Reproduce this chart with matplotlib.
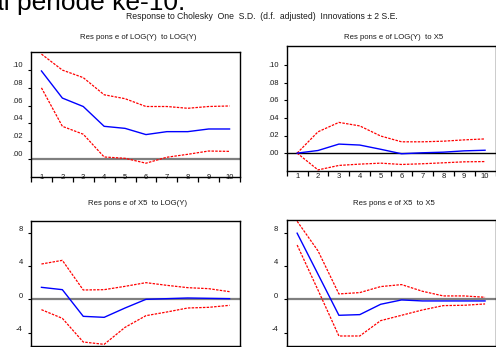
import matplotlib.pyplot as plt
import matplotlib.transforms as mtransforms

plt.rcParams['font.family'] = ['Liberation Sans', 'DejaVu Sans']

periods = list(range(1, 11))

# Response of LOG(Y) to LOG(Y)
yy_resp = [0.099, 0.0685, 0.059, 0.0367, 0.0344, 0.0274, 0.0307, 0.0307, 0.0337, 0.0337]
yy_up = [0.118, 0.100, 0.0915, 0.0722, 0.0678, 0.059, 0.059, 0.057, 0.059, 0.0596]
yy_lo = [0.080, 0.0367, 0.0278, 0.0022, 0.0007, -0.0048, 0.0019, 0.0052, 0.0089, 0.0085]

# Response of LOG(Y) to X5
yx_resp = [0.0, 0.003, 0.0103, 0.0092, 0.0044, -0.0007, 0.0004, 0.0011, 0.0026, 0.0033]
yx_up = [0.0, 0.0243, 0.035, 0.031, 0.0195, 0.0129, 0.0129, 0.0136, 0.0151, 0.0162]
yx_lo = [0.0, -0.0191, -0.014, -0.0125, -0.0114, -0.0129, -0.0121, -0.011, -0.0099, -0.0096]

# Response of X5 to LOG(Y)
xy_resp = [1.44, 1.16, -2.04, -2.16, -1.04, 0.0, 0.08, 0.16, 0.12, 0.08]
xy_up = [4.24, 4.68, 1.12, 1.16, 1.56, 2.0, 1.68, 1.4, 1.28, 0.92]
xy_lo = [-1.24, -2.28, -5.12, -5.4, -3.36, -1.96, -1.52, -1.04, -0.96, -0.72]

# Response of X5 to X5
xx_resp = [7.92, 3.0, -1.92, -1.84, -0.6, -0.08, -0.2, -0.2, -0.2, -0.2]
xx_up = [9.35, 5.8, 0.64, 0.8, 1.52, 1.76, 0.96, 0.4, 0.4, 0.24]
xx_lo = [6.5, 1.1, -4.4, -4.4, -2.56, -1.92, -1.28, -0.76, -0.72, -0.56]

small_ticks = [0.0, 0.02, 0.04, 0.06, 0.08, 0.10]
small_labels = ['.00', '.02', '.04', '.06', '.08', '.10']
big_ticks = [-4, 0, 4, 8]
big_labels = ['-4', '0', '4', '8']

W, H = 496, 347
fig = plt.figure(figsize=(W / 100, H / 100), dpi=100)

def px_axes(x0, y0, x1, y1):
    return fig.add_axes([x0 / W, 1 - y1 / H, (x1 - x0) / W, (y1 - y0) / H])

txt = '#1a1a1a'

def draw_panel(ax, resp, up, lo, title, ylim, yticks, ylabels,
               zero_color, zero_lw, xpad, ylab_shift, title_y, xlabels=True):
    ax.axhline(0, color=zero_color, lw=zero_lw, zorder=1)
    ax.plot(periods, up, color='red', lw=0.9, ls=(0, (2, 1)), zorder=2)
    ax.plot(periods, lo, color='red', lw=0.9, ls=(0, (2, 1)), zorder=2)
    ax.plot(periods, resp, color='blue', lw=1.0, zorder=3)
    ax.set_xlim(0.5, 10.5)
    ax.set_ylim(*ylim)
    ax.set_xticks(periods)
    ax.set_xticks([p + 0.5 for p in range(0, 11)], minor=True)
    ax.tick_params(axis='x', which='major', length=0, labelsize=5.5,
                   pad=xpad, labelcolor=txt, labelbottom=xlabels)
    ax.tick_params(axis='x', which='minor', length=3.5, width=0.9,
                   direction='out')
    ax.set_yticks(yticks)
    ax.set_yticklabels(ylabels)
    ax.tick_params(axis='y', length=2, width=0.8, labelsize=5.5,
                   pad=4, labelcolor=txt)
    off = mtransforms.ScaledTranslation(0, ylab_shift / 72, fig.dpi_scale_trans)
    for lab in ax.get_yticklabels():
        lab.set_transform(lab.get_transform() + off)
    for sp in ax.spines.values():
        sp.set_linewidth(1.0)
    x0 = ax.get_position().x0 + ax.get_position().width / 2
    fig.text(x0 + 0.005, 1 - title_y / H, title, ha='center', va='center',
             fontsize=5.6, color=txt)

ax1 = px_axes(31, 52.3, 240, 176.7)
draw_panel(ax1, yy_resp, yy_up, yy_lo, 'Res pons e of LOG(Y)  to LOG(Y)',
           (-0.02, 0.12), small_ticks, small_labels, '#7f7f7f', 1.6, -2.0, 4, 37.3)

ax2 = px_axes(286.7, 46, 495.5, 170.7)
draw_panel(ax2, yx_resp, yx_up, yx_lo, 'Res pons e of LOG(Y)  to X5',
           (-0.02, 0.122), small_ticks, small_labels, 'black', 1.0, 2.0, 0.5, 37.3)

# the bottom row is cut by the screenshot edge, so its period labels are not visible
ax3 = px_axes(31, 221, 240, 346)
draw_panel(ax3, xy_resp, xy_up, xy_lo, 'Res pons e of X5  to LOG(Y)',
           (-5.6, 9.4), big_ticks, big_labels, '#7f7f7f', 1.6, 2.0, 3, 203.3,
           xlabels=False)

ax4 = px_axes(286.7, 220, 495.5, 346)
draw_panel(ax4, xx_resp, xx_up, xx_lo, 'Res pons e of X5  to X5',
           (-5.6, 9.5), big_ticks, big_labels, '#7f7f7f', 1.6, 2.0, 3, 203.3,
           xlabels=False)

fig.text(0.528, 1 - 16.7 / H,
         'Response to Cholesky  One  S.D.  (d.f.  adjusted)  Innovations \u00b1 2 S.E.',
         ha='center', va='center', fontsize=6.2, color=txt)

# fragment of the document text above the chart
fig.text(-0.022, 1 - 10 / H, 'ai periode ke-10.', ha='left', va='baseline',
         fontsize=19, color='black')

fig.savefig('out.png', dpi=100)
